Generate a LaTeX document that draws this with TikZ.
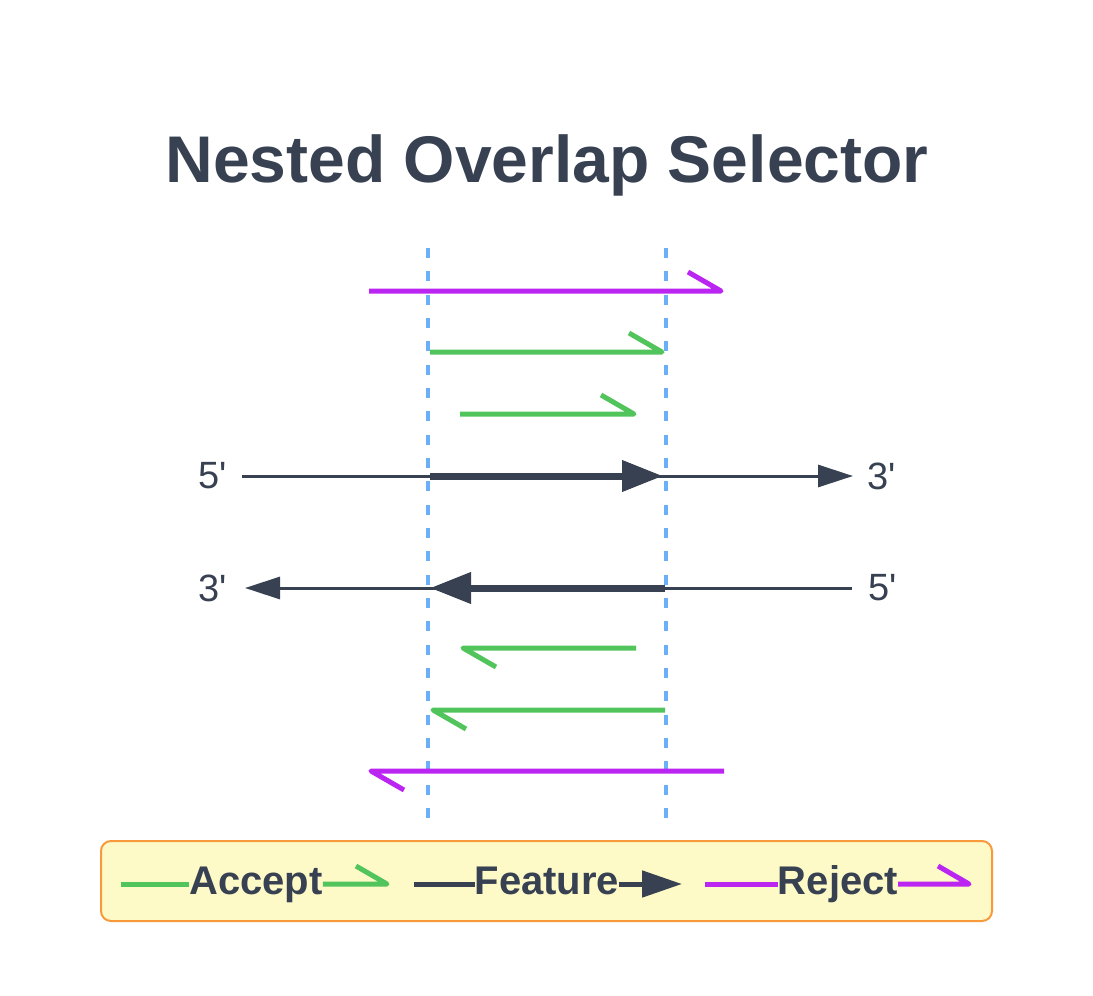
\documentclass[tikz,border=0pt]{standalone}
\usepackage{fontspec}
\setmainfont{Liberation Sans}
\usetikzlibrary{arrows.meta}
\definecolor{ink}{HTML}{374151}
\definecolor{guideblue}{HTML}{6AB0F8}
\definecolor{acceptgreen}{HTML}{52C45C}
\definecolor{rejectpurple}{HTML}{BB25F2}
\definecolor{legendfill}{HTML}{FEFAC8}
\definecolor{legendline}{HTML}{F8993C}

\begin{document}
\begin{tikzpicture}[x=1pt, y=-1pt,
        guide/.style={draw=guideblue, line width=3.5pt, dash pattern=on 10pt off 13.33pt},
        accept/.style={draw=acceptgreen, line width=5pt, line join=round},
        reject/.style={draw=rejectpurple, line width=5pt, line join=round},
        strand/.style={draw=ink, line width=3pt, -{Triangle[length=35pt, width=22pt]}},
        feature/.style={draw=ink, line width=7pt, -{Triangle[length=41pt, width=30pt]}},
        endlabel/.style={text=ink, font=\fontsize{38}{46}\selectfont, inner sep=0pt},
        legendtext/.style={text=ink, font=\fontsize{40}{48}\selectfont\bfseries, inner sep=0pt, text height=29pt, text depth=9pt}
    ]
    \useasboundingbox (0,0) rectangle (1093,996);
    % Titulo
    \node[text=ink, font=\fontsize{66}{79}\selectfont\bfseries, inner sep=0pt] (title) at (547,165) {Nested Overlap Selector};
    % Guias
    \coordinate (guideLtop) at (428,248);
    \coordinate (guideLbot) at (428,818);
    \coordinate (guideRtop) at (666,248);
    \coordinate (guideRbot) at (666,818);
    \draw[guide] (guideLtop) -- (guideLbot);
    \draw[guide] (guideRtop) -- (guideRbot);
    % Lecturas hacia adelante
    \coordinate (rejFwdS) at (369,291);
    \coordinate (rejFwdE) at (721,291);
    \coordinate (accFwdAS) at (430,352);
    \coordinate (accFwdAE) at (662,352);
    \coordinate (accFwdBS) at (460,414);
    \coordinate (accFwdBE) at (634,414);
    \draw[reject] (rejFwdS) -- (rejFwdE) -- ++(-33,-19);
    \draw[accept] (accFwdAS) -- (accFwdAE) -- ++(-33,-19);
    \draw[accept] (accFwdBS) -- (accFwdBE) -- ++(-33,-19);
    % Hebras
    \node[endlabel] (fwd5) at (213,476) {5\textquotesingle};
    \node[endlabel] (fwd3) at (882,476) {3\textquotesingle};
    \node[endlabel] (rev3) at (213,588) {3\textquotesingle};
    \node[endlabel] (rev5) at (883,588) {5\textquotesingle};
    \coordinate (fwdS) at (242,476);
    \coordinate (fwdE) at (853,476);
    \coordinate (featFwdS) at (430,476);
    \coordinate (featFwdE) at (663,476);
    \coordinate (revS) at (852,588);
    \coordinate (revE) at (245,588);
    \coordinate (featRevS) at (665,588);
    \coordinate (featRevE) at (430,588);
    \draw[strand] (fwdS) -- (fwdE);
    \draw[feature] (featFwdS) -- (featFwdE);
    \draw[strand] (revS) -- (revE);
    \draw[feature] (featRevS) -- (featRevE);
    % Lecturas hacia atras
    \coordinate (accRevBS) at (636,648);
    \coordinate (accRevBE) at (463,648);
    \coordinate (accRevAS) at (665,710);
    \coordinate (accRevAE) at (433,710);
    \coordinate (rejRevS) at (724,771);
    \coordinate (rejRevE) at (371,771);
    \draw[accept] (accRevBS) -- (accRevBE) -- ++(33,19);
    \draw[accept] (accRevAS) -- (accRevAE) -- ++(33,19);
    \draw[reject] (rejRevS) -- (rejRevE) -- ++(33,19);
    % Leyenda
    \node[draw=legendline, fill=legendfill, line width=2pt, rounded corners=10pt, minimum width=891pt, minimum height=80pt] (legend) at (546.5,881) {};
    \node[legendtext] (acceptText) at (256,884) {Accept};
    \node[legendtext] (featureText) at (547,884) {Feature};
    \node[legendtext] (rejectText) at (838,884) {Reject};
    \coordinate (acceptL) at (121,884);
    \coordinate (acceptR) at (387,884);
    \coordinate (featureL) at (414,884);
    \coordinate (featureR) at (682,884);
    \coordinate (rejectL) at (705,884);
    \coordinate (rejectR) at (969,884);
    \draw[accept] (acceptL) -- (acceptText.west);
    \draw[accept] (acceptText.east) -- (acceptR) -- ++(-31,-18);
    \draw[draw=ink, line width=5pt] (featureL) -- (featureText.west);
    \draw[draw=ink, line width=5pt, -{Triangle[length=40pt, width=26pt]}] (featureText.east) -- (featureR);
    \draw[reject] (rejectL) -- (rejectText.west);
    \draw[reject] (rejectText.east) -- (rejectR) -- ++(-31,-18);
\end{tikzpicture}
\end{document}
